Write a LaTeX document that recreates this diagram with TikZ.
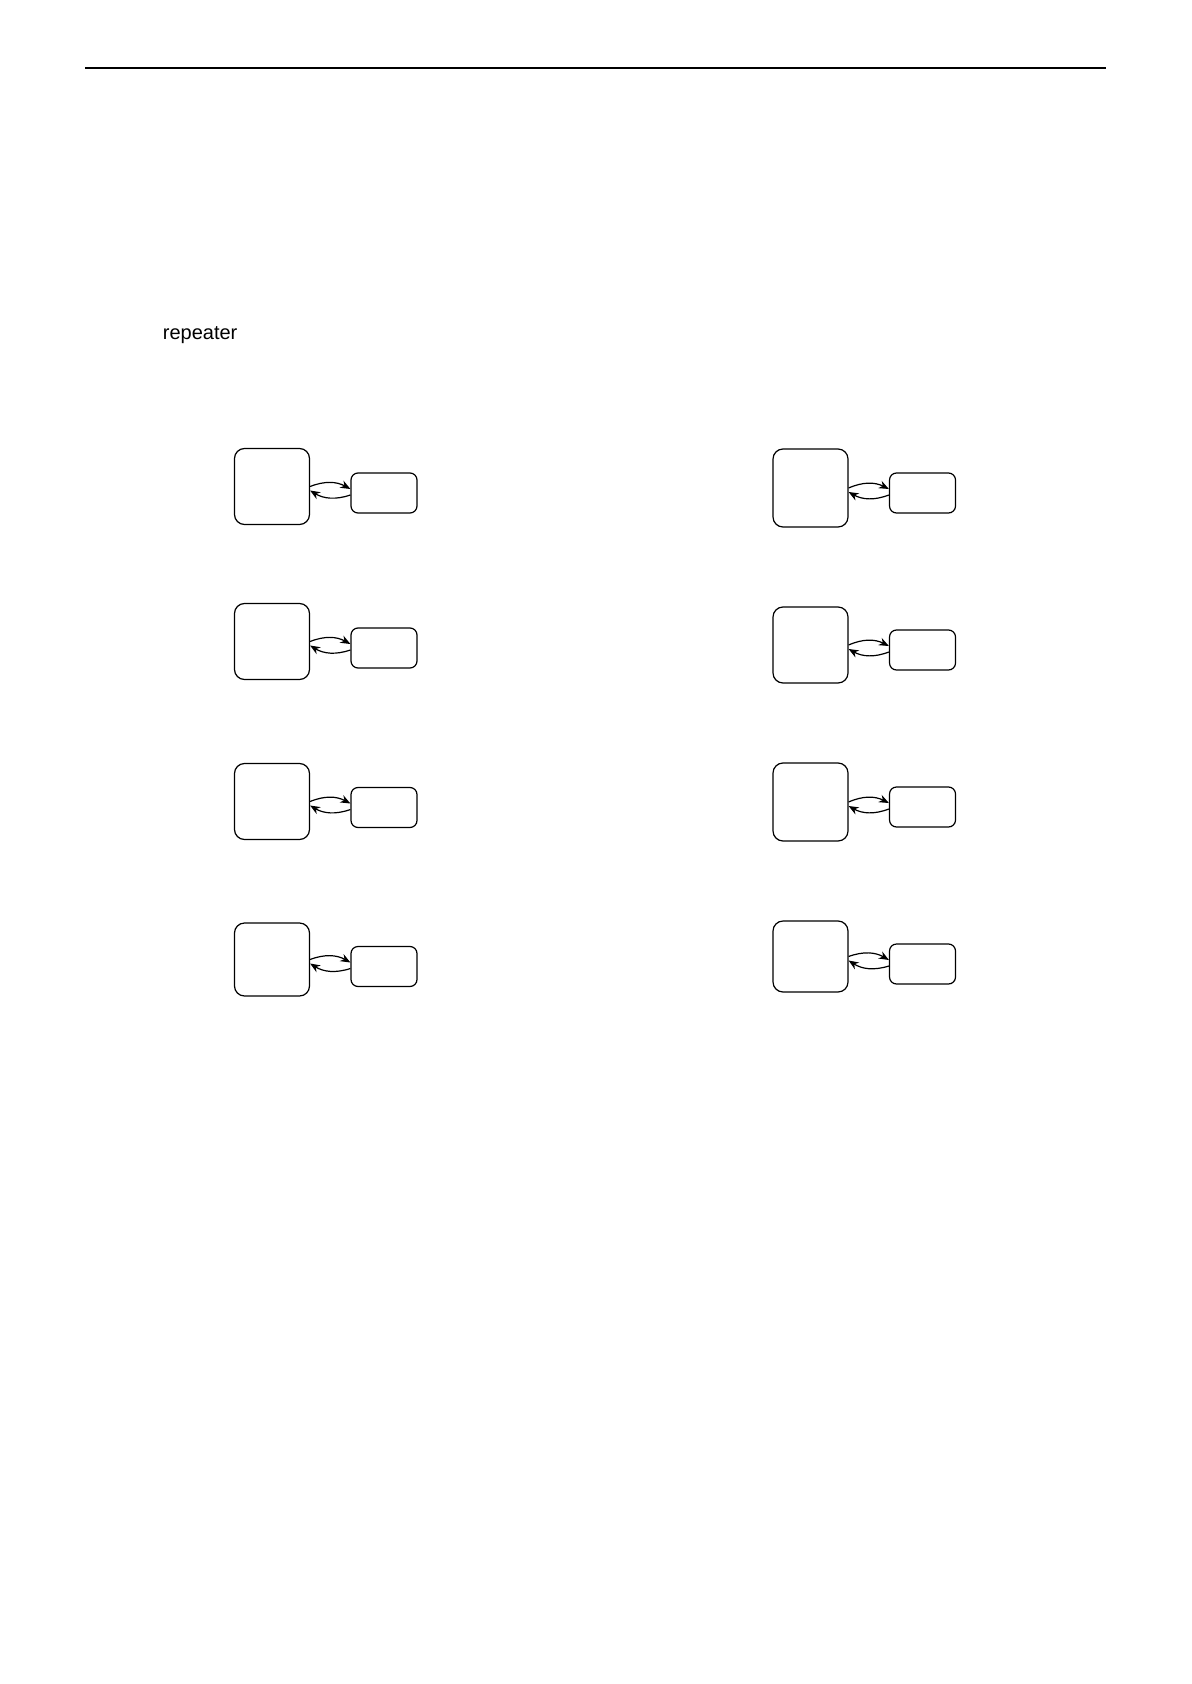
\documentclass[tikz,border=0pt]{standalone}
\usepackage{fontspec}
\setmainfont{Liberation Sans}
\usetikzlibrary{arrows.meta}

\begin{document}
\begin{tikzpicture}[
	x=0.5pt,y=-0.5pt,
	big/.style={draw,line width=0.6pt,rounded corners=5pt,inner sep=0pt,minimum width=37.5pt,minimum height=38pt},
	small/.style={draw,line width=0.6pt,rounded corners=3.5pt,inner sep=0pt,minimum width=33pt,minimum height=20pt},
	link/.style={line width=0.6pt,-{Stealth[length=5pt,width=4pt]}}
	]
		\useasboundingbox (0,0) rectangle (1191,1684);
		\draw[line width=1pt] (85,68) -- (1106,68);
		\path (162.5,340) node[anchor=base west,inner sep=0pt,font=\fontsize{10}{12}\selectfont] (title) {repeater};
		
		% left column
		\path (272,486.5) node[big] (big1) {};
		\path (384,493) node[small] (small1) {};
		\draw[link] (big1.east) to[bend left=25] ([yshift=2pt]small1.west);
		\draw[link] ([yshift=-1pt]small1.west) to[bend left=25] ([yshift=-2pt]big1.east);
		
		\path (272,641.5) node[big] (big2) {};
		\path (384,648) node[small] (small2) {};
		\draw[link] (big2.east) to[bend left=25] ([yshift=2pt]small2.west);
		\draw[link] ([yshift=-1pt]small2.west) to[bend left=25] ([yshift=-2pt]big2.east);
		
		\path (272,801.5) node[big] (big3) {};
		\path (384,807.5) node[small] (small3) {};
		\draw[link] (big3.east) to[bend left=25] ([yshift=2pt]small3.west);
		\draw[link] ([yshift=-1pt]small3.west) to[bend left=25] ([yshift=-2pt]big3.east);
		
		\path (272,959.5) node[big,minimum height=36.5pt] (big4) {};
		\path (384,966.5) node[small] (small4) {};
		\draw[link] (big4.east) to[bend left=25] ([yshift=2pt]small4.west);
		\draw[link] ([yshift=-1pt]small4.west) to[bend left=25] ([yshift=-2pt]big4.east);
		
		% right column
		\path (810.5,488) node[big,minimum height=39pt] (big5) {};
		\path (922.5,493) node[small] (small5) {};
		\draw[link] (big5.east) to[bend left=25] ([yshift=2pt]small5.west);
		\draw[link] ([yshift=-1pt]small5.west) to[bend left=25] ([yshift=-2pt]big5.east);
		
		\path (810.5,645) node[big] (big6) {};
		\path (922.5,650) node[small] (small6) {};
		\draw[link] (big6.east) to[bend left=25] ([yshift=2pt]small6.west);
		\draw[link] ([yshift=-1pt]small6.west) to[bend left=25] ([yshift=-2pt]big6.east);
		
		\path (810.5,802) node[big,minimum height=39pt] (big7) {};
		\path (922.5,807) node[small] (small7) {};
		\draw[link] (big7.east) to[bend left=25] ([yshift=2pt]small7.west);
		\draw[link] ([yshift=-1pt]small7.west) to[bend left=25] ([yshift=-2pt]big7.east);
		
		\path (810.5,956.5) node[big,minimum height=35.5pt] (big8) {};
		\path (922.5,964) node[small] (small8) {};
		\draw[link] (big8.east) to[bend left=25] ([yshift=2pt]small8.west);
		\draw[link] ([yshift=-1pt]small8.west) to[bend left=25] ([yshift=-2pt]big8.east);
		
	\end{tikzpicture}
\end{document}
